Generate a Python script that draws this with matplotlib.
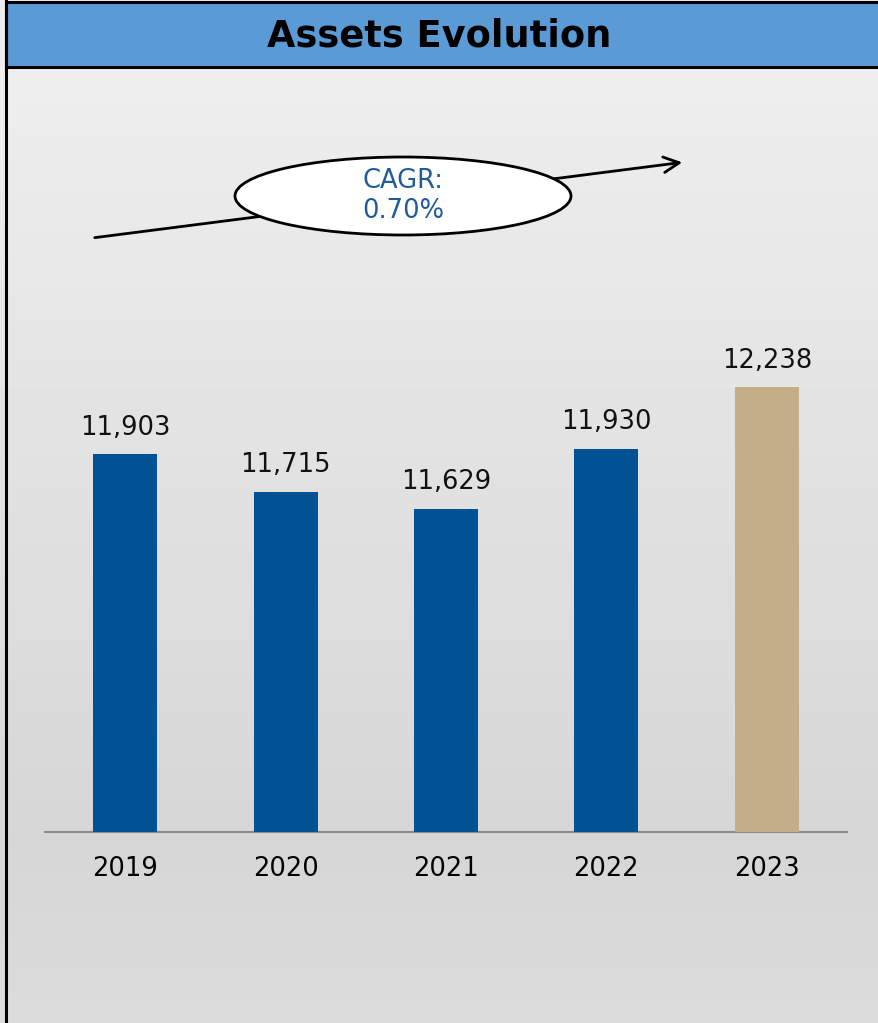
import matplotlib.pyplot as plt
import numpy as np
from matplotlib.patches import Rectangle, Ellipse, FancyArrowPatch
from matplotlib.lines import Line2D

years = ["2019", "2020", "2021", "2022", "2023"]
assets = [11903, 11715, 11629, 11930, 12238]
bar_colors = ["#005293", "#005293", "#005293", "#005293", "#C4AE88"]
cagr_text = "CAGR:\n0.70%"

W, H = 879, 1023
plt.rcParams["font.family"] = ["DejaVu Sans"]

fig = plt.figure(figsize=(W / 100, H / 100), dpi=100)


def fx(px):
    return px / W


def fy(py):
    return 1 - py / H


# background gradient
bg = fig.add_axes([0, 0, 1, 1], zorder=0)
rows = np.arange(H)
shade = np.interp(rows, [0, 70, 840, H], [238, 238, 214, 220]) / 255.0
grad = np.repeat(shade[:, None], 2, axis=1)
bg.imshow(grad, cmap="gray", vmin=0, vmax=1, aspect="auto", extent=[0, 1, 0, 1])
bg.set_axis_off()

# bar chart
ax = fig.add_axes([fx(45), fy(832), fx(847) - fx(45), fy(80) - fy(832)], zorder=2)
ax.patch.set_alpha(0)
x = np.arange(len(years))
bars = ax.bar(x, assets, width=0.4, color=bar_colors, zorder=3)
ax.set_xlim(-0.5, len(years) - 0.5)
ax.set_ylim(10015, 13775)
for b, v in zip(bars, assets):
    ax.annotate(f"{v:,}", (b.get_x() + b.get_width() / 2, v),
                xytext=(0, 10), textcoords="offset points",
                ha="center", va="bottom", fontsize=18.5, color="#111111")
ax.set_xticks(x)
ax.set_xticklabels(years, fontsize=18.5)
ax.tick_params(axis="x", length=0, pad=17)
ax.set_yticks([])
for s in ["top", "right", "left"]:
    ax.spines[s].set_visible(False)
ax.spines["bottom"].set_color("#8C8C8C")
ax.spines["bottom"].set_linewidth(1.5)

# title banner
fig.patches.append(Rectangle((fx(6), fy(67)), 1.0, fy(2) - fy(67),
                             transform=fig.transFigure, facecolor="#5B9BD5",
                             edgecolor="black", linewidth=2.2, zorder=3))
fig.text(0.5, fy(36), "Assets Evolution", ha="center", va="center",
         fontsize=26.5, fontweight="bold", color="black", zorder=4)
fig.lines.append(Line2D([fx(6), fx(6)], [0, 1], transform=fig.transFigure,
                        color="black", linewidth=2.2, zorder=4))

# CAGR arrow and bubble
arrow = FancyArrowPatch((fx(92), fy(238)), (fx(685), fy(162)),
                        transform=fig.transFigure, arrowstyle="->",
                        mutation_scale=28, linewidth=2, color="black", zorder=3)
fig.patches.append(arrow)
fig.patches.append(Ellipse((fx(403), fy(196)), fx(336), 78 / H,
                           transform=fig.transFigure, facecolor="white",
                           edgecolor="black", linewidth=2, zorder=4))
fig.text(fx(403), fy(196), cagr_text, ha="center", va="center",
         fontsize=18.5, color="#1F5C99", linespacing=1.15, zorder=5)

fig.savefig("out.png", dpi=100)
